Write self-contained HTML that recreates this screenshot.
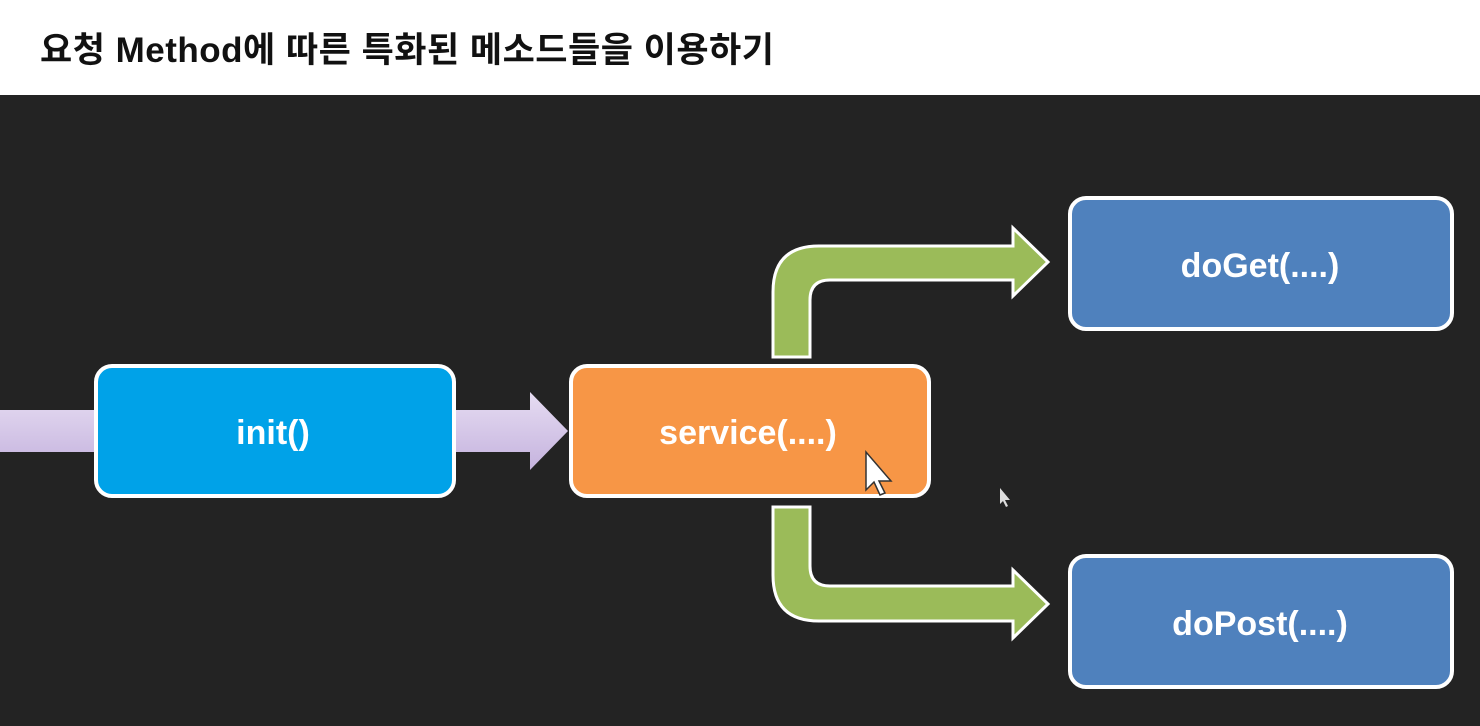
<!DOCTYPE html>
<html><head><meta charset="utf-8"><style>
html,body{margin:0;padding:0;width:1480px;height:726px;overflow:hidden;background:#232323}
.t{position:absolute;left:0;top:0;width:1480px;height:95px;background:#fff}
.t span{position:absolute;left:40px;top:22px;font:bold 35px "Liberation Sans","Noto Sans CJK KR",sans-serif;color:#111;letter-spacing:0.5px}
svg{position:absolute;left:0;top:0}
</style></head><body>
<div class="t"><span>요청 Method에 따른 특화된 메소드들을 이용하기</span></div>
<svg width="1480" height="726">
<defs><linearGradient id="p" x1="0" y1="0" x2="0" y2="1"><stop offset="0" stop-color="#e6dcf2"/><stop offset="1" stop-color="#c5b3de"/></linearGradient></defs>
<polygon points="0,410 530,410 530,392 568,431 530,470 530,452 0,452" fill="url(#p)"/>
<path d="M773,357 L773,292 Q773,246 819,246 L1013,246 L1013,228 L1048,262 L1013,296 L1013,280 L830,280 Q810,280 810,300 L810,357 Z" fill="#9bbb59" stroke="#fff" stroke-width="3"/>
<path d="M773,507 L773,575 Q773,621 819,621 L1013,621 L1013,638 L1048,604 L1013,570 L1013,586 L830,586 Q810,586 810,566 L810,507 Z" fill="#9bbb59" stroke="#fff" stroke-width="3"/>
<g stroke="#fff" stroke-width="4" font-family="Liberation Sans, sans-serif" font-weight="bold" font-size="34" text-anchor="middle">
<rect x="96" y="366" width="358" height="130" rx="16" fill="#00a2e8"/>
<rect x="571" y="366" width="358" height="130" rx="16" fill="#f79646"/>
<rect x="1070" y="198" width="382" height="131" rx="16" fill="#4f81bd"/>
<rect x="1070" y="556" width="382" height="131" rx="16" fill="#4f81bd"/>
<g stroke="none" fill="#fff">
<text x="273" y="444">init()</text>
<text x="748" y="444">service(....)</text>
<text x="1260" y="277">doGet(....)</text>
<text x="1260" y="635">doPost(....)</text>
</g></g>
<polygon points="866,452 866,490 874,482 880,495 885,493 879,481 891,481" fill="#fff" stroke="#333" stroke-width="1.5"/>
<polygon points="1000,488 1000,504 1003,501 1006,507 1008,506 1005,500 1010,500" fill="#ddd"/>
</svg>
</body></html>
